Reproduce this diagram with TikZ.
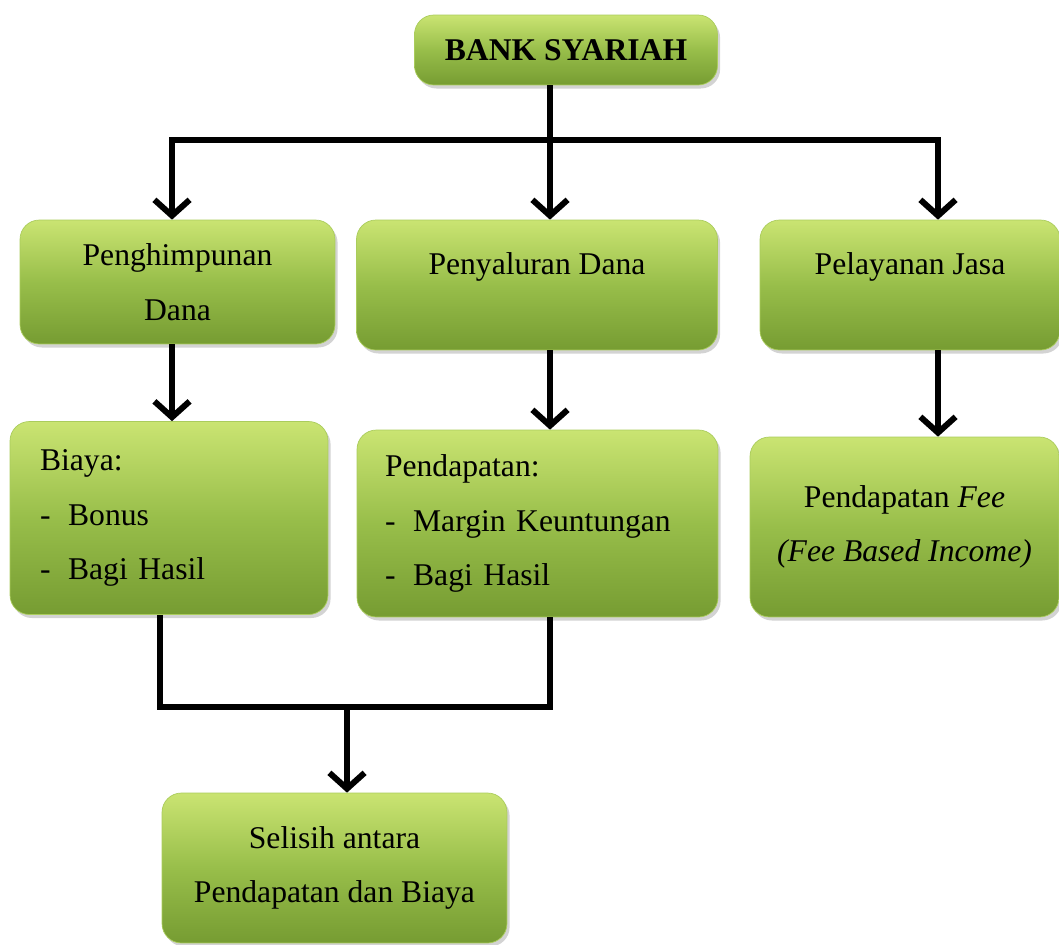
\documentclass[tikz,border=0pt]{standalone}
\usepackage{fontspec}
\setmainfont{Liberation Serif}
\usepackage{tikz}
\usetikzlibrary{arrows.meta,positioning,shadows}
\definecolor{boxtop}{RGB}{202,228,114}
\definecolor{boxmid}{RGB}{152,190,74}
\definecolor{boxbot}{RGB}{118,156,50}
\definecolor{boxline}{RGB}{170,204,92}
\newcommand{\listdash}{\makebox[16pt][l]{-}}

\begin{document}
\begin{tikzpicture}[x=.02cm,y=-.02cm,font=\fontsize{18}{31}\selectfont]%
\useasboundingbox (0,0) rectangle (1059,944);
\tikzstyle{link}=[line width=3.4pt]
\tikzstyle{arr}=[line width=3.4pt,-{Straight Barb[length=9pt,width=20pt]}]
\begin{scope}[inner sep=0pt]%
\tikzstyle{box}=[draw=boxline,thin,rounded corners=11pt,top color=boxtop,bottom color=boxbot,middle color=boxmid,drop shadow={opacity=.35,shadow xshift=1.5pt,shadow yshift=-2pt}] %%
\node[box,minimum width=6.06cm,minimum height=1.4cm,font=\fontsize{18}{31}\selectfont\bfseries] (bank) at (566,50) {BANK SYARIAH}; %%
\node[box,minimum width=6.3cm,minimum height=2.48cm,align=center] (hdana) at (177.5,282) {Penghimpunan\\Dana}; %%
\node[box,minimum width=7.22cm,minimum height=2.6cm,label={[yshift=.36cm]center:Penyaluran Dana}] (sdana) at (537,285) {}; %%
\node[box,minimum width=6.0cm,minimum height=2.6cm,label={[yshift=.36cm]center:Pelayanan Jasa}] (jasa) at (910,285) {}; %%
\node[box,text width=5.16cm,inner xsep=.6cm,minimum height=3.86cm,align=left] (biaya) at (169,518) {Biaya:\\\listdash Bonus\\\listdash Bagi Hasil}; %%
\node[box,text width=6.1cm,inner xsep=.56cm,minimum height=3.74cm,align=left] (pend) at (537.5,523.5) {Pendapatan:\\\listdash Margin Keuntungan\\\listdash Bagi Hasil}; %%
\node[box,minimum width=6.18cm,minimum height=3.6cm,align=center] (fee) at (904.5,527) {Pendapatan \textit{Fee}\\\textit{(Fee Based Income)}}; %%
\node[box,minimum width=6.9cm,minimum height=3cm,align=center] (selisih) at (334.5,868) {Selisih antara\\Pendapatan dan Biaya}; %%
\end{scope}
\coordinate (top) at (550,140);
\coordinate (tl) at (172,140);
\coordinate (tr) at (938,140);
\coordinate (bl) at (160,707);
\coordinate (br) at (550,707);
\coordinate (bm) at (347,707);
\draw[link] (bank.south -| top)--(top); %%
\draw[link,line cap=rect] (tl)--(tr); %%
\draw[arr] (tl)--(tl |- hdana.north); %%
\draw[arr] (top)--(top |- sdana.north); %%
\draw[arr] (tr)--(tr |- jasa.north); %%
\draw[arr] (tl |- hdana.south)--(tl |- biaya.north); %%
\draw[arr] (top |- sdana.south)--(top |- pend.north); %%
\draw[arr] (tr |- jasa.south)--(tr |- fee.north); %%
\draw[link,line join=miter] (bl |- biaya.south)--(bl)--(br)--(br |- pend.south); %%
\draw[arr] (bm)--(bm |- selisih.north); %%
\end{tikzpicture}
\end{document}
